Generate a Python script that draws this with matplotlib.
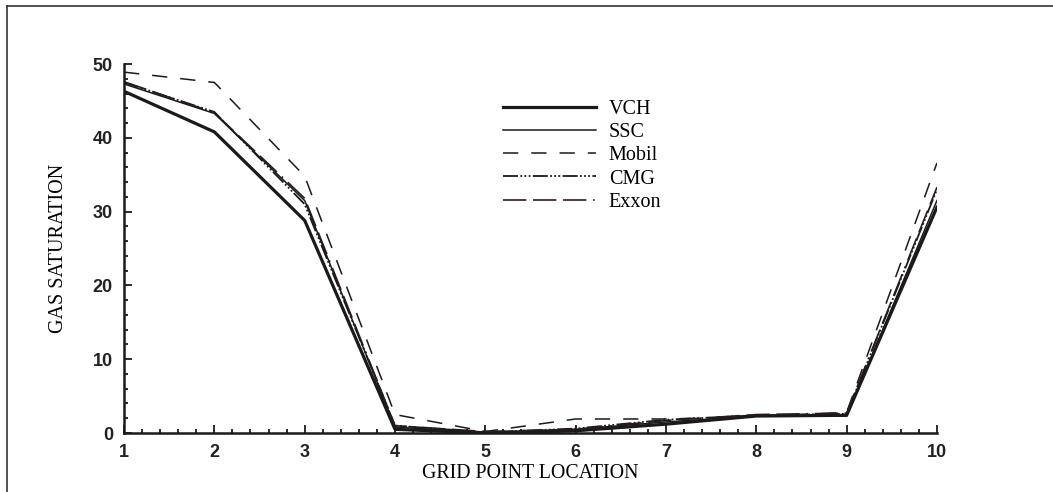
import matplotlib.pyplot as plt
from matplotlib.lines import Line2D
from matplotlib.ticker import MultipleLocator

# grid point locations and gas saturation per simulator
grid_pts = [1, 2, 3, 4, 5, 6, 7, 8, 9, 10]
vch = [46.3, 40.8, 28.8, 0.5, 0.0, 0.3, 1.2, 2.3, 2.4, 30.6]
ssc = [47.3, 43.3, 31.5, 0.8, 0.1, 0.5, 1.5, 2.3, 2.3, 31.5]
mobil = [48.9, 47.5, 34.8, 2.5, 0.2, 1.9, 1.9, 2.2, 2.8, 36.6]
cmg = [47.5, 43.5, 31.0, 1.0, 0.1, 0.6, 1.8, 2.4, 2.6, 33.0]
exxon = [47.6, 43.4, 31.8, 1.0, 0.2, 0.5, 1.7, 2.5, 2.7, 33.3]

serif = 'Liberation Serif'
sans = 'Liberation Sans'

fig = plt.figure(figsize=(10.53, 4.92), dpi=100)
ax = fig.add_axes([0.1178, 0.1199, 0.772, 0.75])

ink = '#1a1a1a'
ax.plot(grid_pts, vch, color=ink, lw=2.3, label='VCH')
ax.plot(grid_pts, ssc, color=ink, lw=1.1, label='SSC')
ax.plot(grid_pts, mobil, color=ink, lw=1.1, linestyle=(0, (10, 8.5)), label='Mobil')
ax.plot(grid_pts, cmg, color=ink, lw=1.3,
        linestyle=(0, (8.3, 1.3, 1, 1.3, 1, 1.3, 1, 1.3)), label='CMG')
ax.plot(grid_pts, exxon, color='#2a1a1a', lw=1.2,
        linestyle=(0, (14, 4, 14, 4, 14, 4, 1, 4)), label='Exxon')

ax.set_xlim(1, 10)
ax.set_ylim(0, 50)
ax.xaxis.set_major_locator(MultipleLocator(1))
ax.xaxis.set_minor_locator(MultipleLocator(0.2))
ax.yaxis.set_major_locator(MultipleLocator(10))
ax.yaxis.set_minor_locator(MultipleLocator(2))
ax.tick_params(which='both', direction='in', width=1.3, color=ink)
ax.tick_params(which='major', length=6, pad=8, labelsize=13)
ax.tick_params(which='minor', length=3)
for lbl in ax.get_xticklabels() + ax.get_yticklabels():
    lbl.set_fontfamily(sans)
    lbl.set_fontweight('bold')
    lbl.set_color('#222222')

for side in ['top', 'right']:
    ax.spines[side].set_visible(False)
for side in ['left', 'bottom']:
    ax.spines[side].set_linewidth(1.8)
    ax.spines[side].set_color(ink)

ax.set_xlabel('GRID POINT LOCATION', family=serif, fontsize=14.3, labelpad=2)
ax.set_ylabel('GAS SATURATION', family=serif, fontsize=14.5, labelpad=18)

ax.legend(loc='upper left', bbox_to_anchor=(493 / 1053, 1 - 90 / 492),
          bbox_transform=fig.transFigure, frameon=False, borderpad=0,
          handlelength=4.6, handletextpad=0.65, labelspacing=0.2,
          prop={'family': serif, 'size': 14.5})

# border of the scanned page
fig.add_artist(Line2D([7 / 1053, 1], [1 - 6 / 492, 1 - 6 / 492],
                      transform=fig.transFigure, color='#333333', lw=1.2))
fig.add_artist(Line2D([7 / 1053, 7 / 1053], [0, 1 - 6 / 492],
                      transform=fig.transFigure, color='#333333', lw=1.2))

fig.savefig('out.png', dpi=100)
